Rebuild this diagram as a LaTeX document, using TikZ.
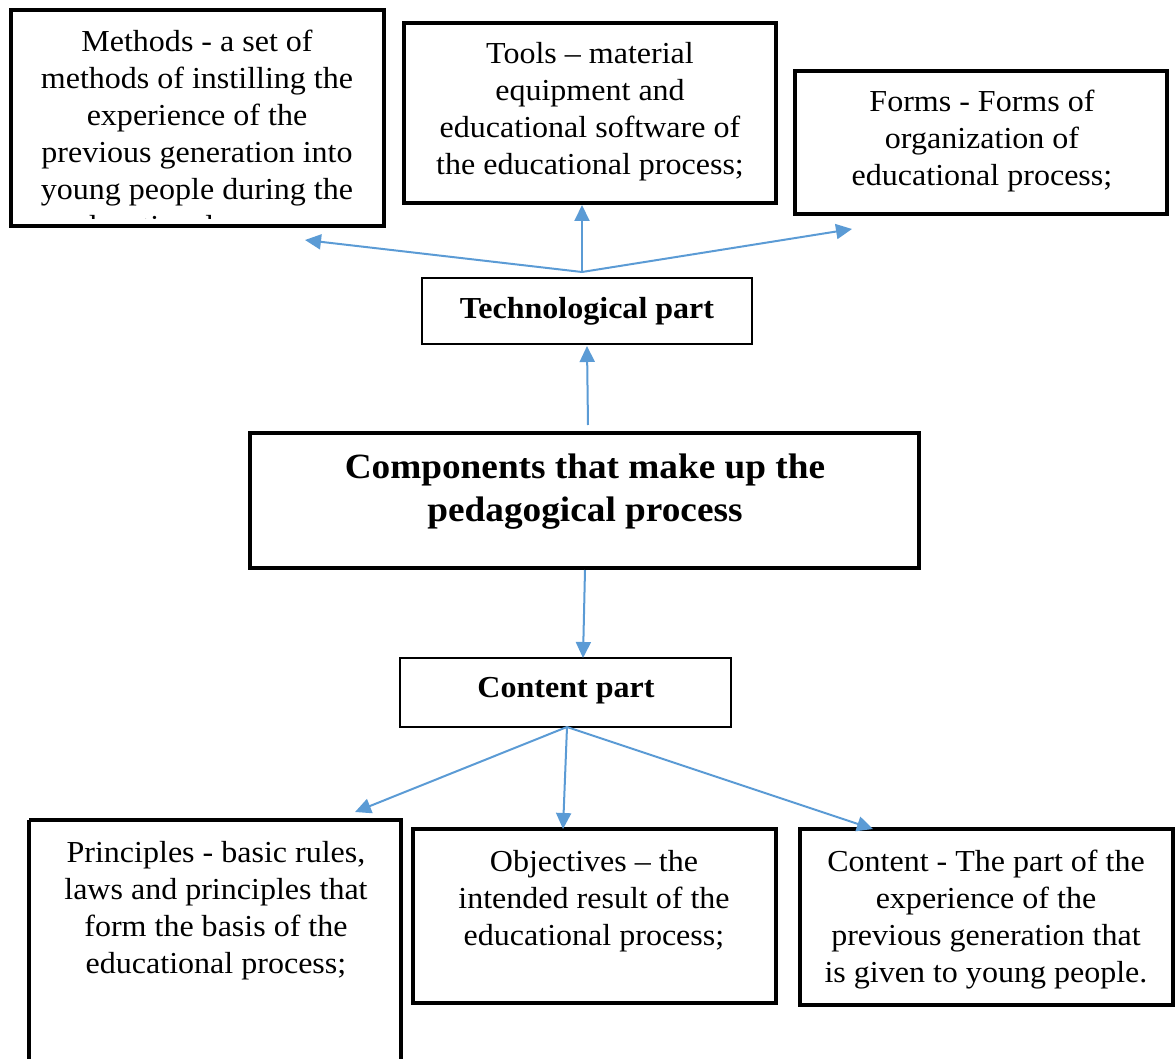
\documentclass[tikz,border=0pt]{standalone}
\usepackage{fontspec}
\setmainfont{Liberation Serif}[FakeStretch=1.05]
\usetikzlibrary{arrows.meta}
\definecolor{arrowblue}{HTML}{5B9BD5}
\tikzset{
  thickbox/.style={draw=black, line width=3.5pt, fill=none},
  thinbox/.style={draw=black, line width=1.5pt, fill=none},
  txt/.style={inner sep=0pt, align=center, anchor=north, font=\fontsize{30.5}{37}\selectfont},
  btxt/.style={inner sep=0pt, align=center, font=\bfseries\fontsize{30.5}{37}\selectfont},
  bigtxt/.style={inner sep=0pt, align=center, font=\bfseries\fontsize{35.5}{43}\selectfont},
  arr/.style={draw=arrowblue, line width=2pt, -{Triangle[length=16pt,width=15pt]}}
}
\begin{document}
\begin{tikzpicture}[x=1pt,y=-1pt]
\useasboundingbox (0,0) rectangle (1176,1059);
% boxes
\begin{scope}
\clip (13,12) rectangle (382,219);
\node[txt] (methodstxt) at (197,29.5) {Methods - a set of\\methods of instilling the\\experience of the\\previous generation into\\young people during the\\educational process;};
\end{scope}
\draw[thickbox] (11,10) rectangle (384,226);
\node[inner sep=0pt] (methods) at (197.5,118) {};

\draw[thickbox] (404,23) rectangle (776,203);
\node[inner sep=0pt] (tools) at (590,113) {};
\node[txt] (toolstxt) at (590,42) {Tools -- material\\equipment and\\educational software of\\the educational process;};

\draw[thickbox] (795,71) rectangle (1167,214);
\node[inner sep=0pt] (forms) at (981,142) {};
\node[txt] (formstxt) at (982,90) {Forms - Forms of\\organization of\\educational process;};

\draw[thinbox] (422,278) rectangle (752,344);
\node[btxt] (tech) at (587,311) {Technological part};

\draw[thickbox] (250,433) rectangle (919,568);
\node[bigtxt] (comp) at (585,491.5) {Components that make up the\\pedagogical process};

\draw[thinbox] (400,658) rectangle (731,727);
\node[btxt] (cont) at (566,691) {Content part};

\draw[thickbox] (29,820) -- (29,1075) (29,820) -- (401,820) -- (401,1075);
\node[txt] (princtxt) at (216,841) {Principles - basic rules,\\laws and principles that\\form the basis of the\\educational process;};

\draw[thickbox] (413,829) rectangle (776,1003);
\node[txt] (objtxt) at (594,850) {Objectives -- the\\intended result of the\\educational process;};

\draw[thickbox] (800,829) rectangle (1173,1005);
\node[txt] (conttxt) at (986,850) {Content - The part of the\\experience of the\\previous generation that\\is given to young people.};

% connector points
\coordinate (tj) at (582,272);
\coordinate (tm) at (305,240);
\coordinate (tt) at (582,205);
\coordinate (tf) at (852,229);
\coordinate (ctop) at (588,425);
\coordinate (tbot) at (587,346);
\coordinate (cbot) at (585,570);
\coordinate (cpt) at (583,658);
\coordinate (cj) at (567,727);
\coordinate (cp) at (355,812);
\coordinate (co) at (563,829);
\coordinate (cc) at (873,829);

\draw[arr] (tj) -- (tm);
\draw[arr] (tj) -- (tt);
\draw[arr] (tj) -- (tf);
\draw[arr] (ctop) -- (tbot);
\draw[arr] (cbot) -- (cpt);
\draw[arr] (cj) -- (cp);
\draw[arr] (cj) -- (co);
\draw[arr] (cj) -- (cc);
\end{tikzpicture}
\end{document}
